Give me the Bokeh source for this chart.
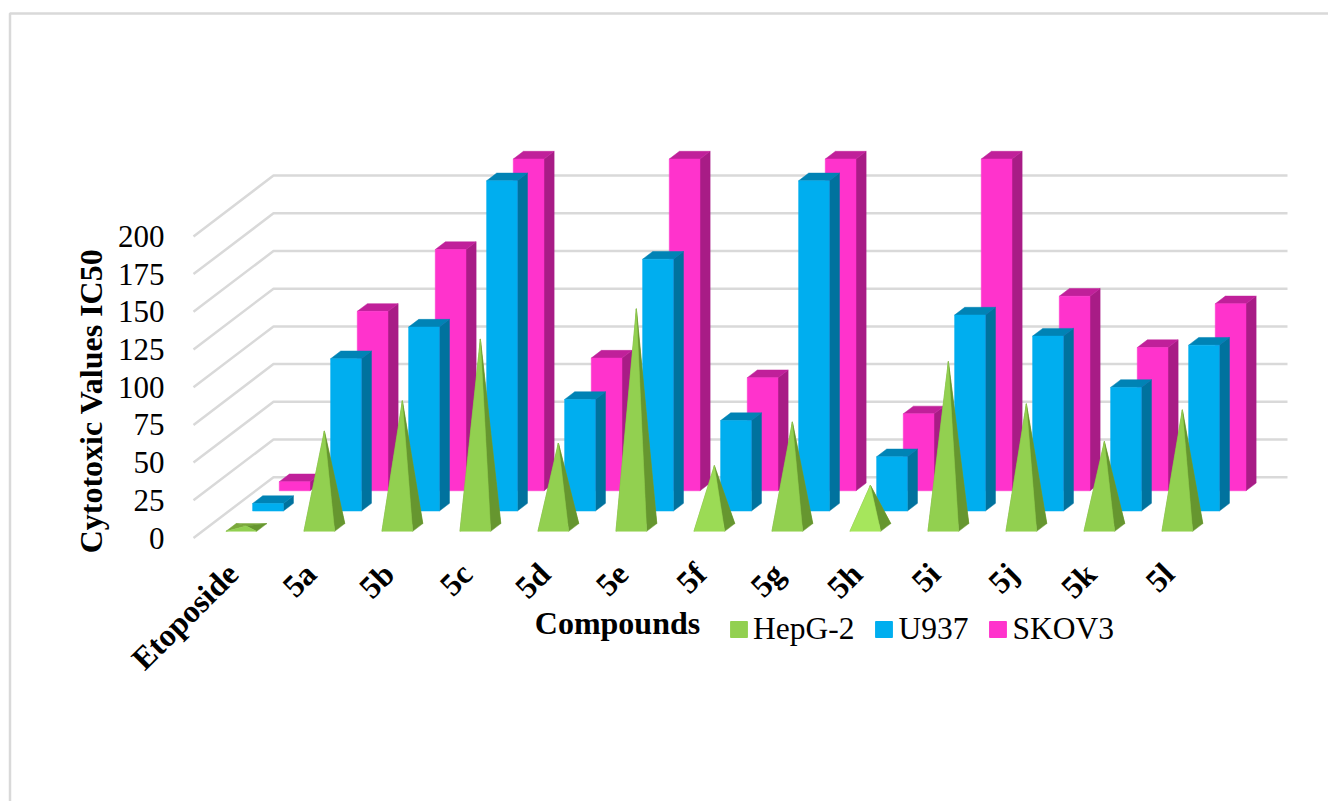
import math

from bokeh.embed import file_html
from bokeh.models import (BoxAnnotation, FixedTicker, Label, Legend, LegendItem,
                          Range1d)
from bokeh.plotting import figure
from bokeh.resources import INLINE

compounds = ["Etoposide", "5a", "5b", "5c", "5d", "5e", "5f", "5g", "5h", "5i", "5j", "5k", "5l"]
hepg2 = [1, 64, 84, 125, 56, 145, 41, 70, 28, 110, 82, 57, 78]
u937 = [5, 101, 122, 219, 74, 167, 60, 219, 36, 130, 116, 82, 110]
skov3 = [6, 119, 160, 220, 88, 220, 75, 220, 51, 220, 129, 95, 124]
y_ticks = [0, 25, 50, 75, 100, 125, 150, 175, 200]

# The frame fills the page: one compound is 78 px wide, one value unit 1.508 px tall.
WIDTH, HEIGHT = 1328, 801
PX_X = 78.0
PX_Y = 1.508
ORIGIN_X = 193
ZERO_Y = 537.5

# Oblique projection: depth 0..1 runs from the front of the floor to the back wall.
DEPTH_X = 80.0 / PX_X
DEPTH_Y = 60.8 / PX_Y
BAR_W = 0.394
ROWS = 3
ROW_FRONT = 0.33
ROW_DEPTH = 0.38

GREEN, BLUE, PINK = "#92D050", "#00AEEF", "#FF33CC"


def project(x, depth, v):
    return x + depth * DEPTH_X, v + depth * DEPTH_Y


def poly(*corners):
    pts = [project(*c) for c in corners]
    return [p[0] for p in pts], [p[1] for p in pts]


def footprint(i, row):
    left = i + 0.5 - BAR_W / 2
    right = i + 0.5 + BAR_W / 2
    front = (row + ROW_FRONT) / ROWS
    back = (row + ROW_FRONT + ROW_DEPTH) / ROWS
    return left, right, front, back


def add_faces(p, faces, colors):
    return p.patches([f[0] for f in faces], [f[1] for f in faces],
                     fill_color=colors, line_color=colors, line_width=0.5)


def draw_bars(p, values, row, front_c, side_c, top_c):
    sides, tops, fronts = [], [], []
    for i, v in enumerate(values):
        l, r, f, b = footprint(i, row)
        sides.append(poly((r, f, 0), (r, b, 0), (r, b, v), (r, f, v)))
        tops.append(poly((l, f, v), (r, f, v), (r, b, v), (l, b, v)))
        fronts.append(poly((l, f, 0), (r, f, 0), (r, f, v), (l, f, v)))
    add_faces(p, sides, side_c)
    add_faces(p, tops, top_c)
    add_faces(p, fronts, front_c)


def draw_pyramids(p, values, row, front_cs, side_c, rear_c):
    rears, sides, fronts = [], [], []
    for i, v in enumerate(values):
        l, r, f, b = footprint(i, row)
        apex = ((l + r) / 2, (f + b) / 2, v)
        rears.append(poly((l, f, 0), (l, b, 0), apex))
        rears.append(poly((l, b, 0), (r, b, 0), apex))
        sides.append(poly((r, f, 0), (r, b, 0), apex))
        fronts.append(poly((l, f, 0), (r, f, 0), apex))
    add_faces(p, rears, rear_c)
    add_faces(p, sides, side_c)
    add_faces(p, fronts, front_cs)


p = figure(
    width=WIDTH, height=HEIGHT, output_backend="svg", toolbar_location=None,
    min_border_left=0, min_border_right=0, min_border_top=0, min_border_bottom=0,
    x_range=Range1d(-ORIGIN_X / PX_X, (WIDTH - ORIGIN_X) / PX_X),
    y_range=Range1d((ZERO_Y - HEIGHT) / PX_Y, ZERO_Y / PX_Y),
)
p.outline_line_color = None
p.grid.visible = False

# Thin grey border around the chart area.
p.add_layout(BoxAnnotation(
    left=9.5, top=13, right=WIDTH + 30, bottom=HEIGHT + 30,
    left_units="canvas", right_units="canvas", top_units="canvas", bottom_units="canvas",
    fill_color=None, line_color="#D9D9D9", line_alpha=1.0, line_width=2.5, level="underlay",
))

# Value gridlines run along the floor side and then across the back wall.
grid_xs, grid_ys = [], []
n = len(compounds)
for t in y_ticks:
    xs, ys = poly((0, 0, t), (0, 1, t), (n, 1, t))
    grid_xs.append(xs)
    grid_ys.append(ys)
p.multi_line(grid_xs, grid_ys, line_color="#D9D9D9", line_width=2.5)

draw_bars(p, skov3, 2, PINK, "#A81C86", "#C0209A")
draw_bars(p, u937, 1, BLUE, "#00729E", "#0083B5")
green_fronts = [GREEN] * n
green_fronts[6] = "#9BDB55"
green_fronts[8] = "#A6E65C"
draw_pyramids(p, hepg2, 0, green_fronts, "#66962F", "#7BA93C")

# Axes sit at fixed data positions inside the page-sized frame.
yax = p.yaxis[0]
yax.fixed_location = 0
yax.ticker = FixedTicker(ticks=y_ticks)
yax.axis_line_color = None
yax.major_tick_line_color = None
yax.minor_tick_line_color = None
yax.major_label_standoff = 23
yax.major_label_text_font = "Liberation Serif"
yax.major_label_text_font_size = "31px"
yax.major_label_text_color = "#000000"
yax.axis_label = "Cytotoxic Values IC50"
yax.axis_label_standoff = 6
yax.axis_label_text_font = "Liberation Serif"
yax.axis_label_text_font_style = "bold"
yax.axis_label_text_font_size = "32px"
yax.axis_label_text_color = "#000000"

xax = p.xaxis[0]
xax.fixed_location = -5
xax.ticker = FixedTicker(ticks=[i + 0.5 for i in range(n)])
xax.major_label_overrides = {i + 0.5: c for i, c in enumerate(compounds)}
xax.major_label_orientation = math.pi / 4
xax.axis_line_color = None
xax.major_tick_line_color = None
xax.minor_tick_line_color = None
xax.major_label_standoff = 17
xax.major_label_text_font = "Liberation Serif"
xax.major_label_text_font_style = "bold"
xax.major_label_text_font_size = "32px"
xax.major_label_text_color = "#000000"

p.add_layout(Label(
    x=(617 - ORIGIN_X) / PX_X, y=(ZERO_Y - 622) / PX_Y, text="Compounds",
    text_font="Liberation Serif", text_font_style="bold", text_font_size="32px",
    text_color="#000000", text_align="center", text_baseline="middle",
))

# Legend swatches come from undrawn quads (NaN extents) so they stay plain squares.
nan = float("nan")
swatches = [p.quad(left=[nan], right=[nan], top=[nan], bottom=[nan], fill_color=c, line_color=c)
            for c in (GREEN, BLUE, PINK)]
legend = Legend(
    items=[LegendItem(label=lab, renderers=[r])
           for lab, r in zip(["HepG-2", "U937", "SKOV3"], swatches)],
    orientation="horizontal", location=(728, 154),
    glyph_width=21, glyph_height=20, label_standoff=4, spacing=19,
    margin=0, padding=0, border_line_color=None, background_fill_color=None,
    label_text_font="Liberation Serif", label_text_font_size="31.5px",
    label_text_color="#000000",
)
p.add_layout(legend)

open("out.html", "w").write(file_html(p, INLINE))
